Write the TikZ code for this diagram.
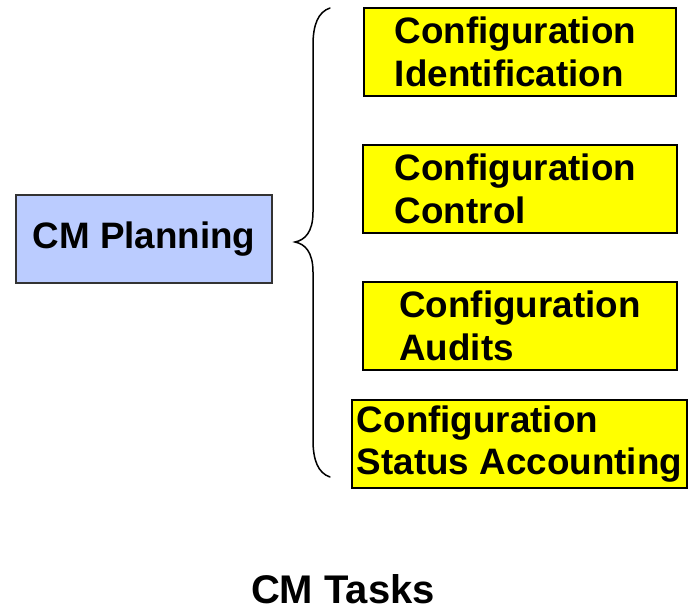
\documentclass[tikz,border=0pt]{standalone}
\usepackage{fontspec}
\setmainfont{Liberation Sans}
\definecolor{planblue}{RGB}{187,204,255}
\definecolor{taskyellow}{RGB}{255,255,0}
\begin{document}
\begin{tikzpicture}[x=1pt,y=-1pt,
  every node/.style={font=\fontsize{36.8}{42.5}\selectfont\bfseries},
  taskbox/.style={draw=black,line width=1.6pt,fill=taskyellow,align=left,
    minimum height=88pt,inner sep=0pt},
  planbox/.style={draw=black!80,line width=1.4pt,fill=planblue,
    minimum width=256pt,minimum height=88pt,inner sep=0pt}]
\useasboundingbox (0,0) rectangle (688,614);

\node[planbox] (plan) at (144,239) {CM Planning};

\node[taskbox,minimum width=312pt] (ident) at (520,52)
  {Configuration\hspace*{9pt}\\Identification};
\node[taskbox,minimum width=314pt] (ctrl) at (520,189)
  {Configuration\hspace*{9pt}\\Control};
\node[taskbox,minimum width=314pt] (audit) at (520,326)
  {Configuration\\Audits};
\node[taskbox,minimum width=335pt] (status) at (519.5,444)
  {Configuration\\Status Accounting};

% curly brace grouping the tasks
\coordinate (btop) at (330,8);
\coordinate (btip) at (295,242);
\coordinate (bbot) at (330,477);
\draw[line width=1.5pt,line cap=round]
  (btop) .. controls (318,12) and (313,25) .. (313,45)
  -- (313,212) .. controls (313,232) and (305,240) .. (btip)
  .. controls (305,244) and (313,252) .. (313,272)
  -- (313,440) .. controls (313,460) and (318,473) .. (bbot);

\node[font=\fontsize{40}{46}\selectfont\bfseries,anchor=base,inner sep=0pt]
  (title) at (343,603) {CM Tasks};
\end{tikzpicture}
\end{document}
